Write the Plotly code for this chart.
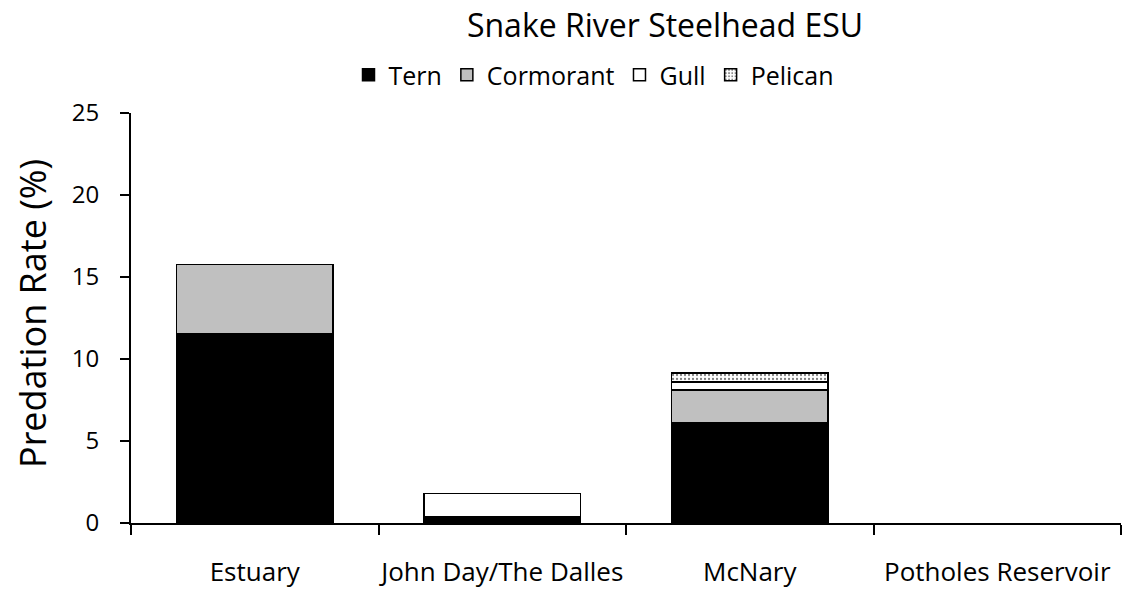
import plotly.graph_objects as go

# Stacked predation rates (%) by location and bird colony type
locations = ["Estuary", "John Day/The Dalles", "McNary", "Potholes Reservoir"]
tern = [11.55, 0.4, 6.1, 0]
cormorant = [4.2, 0, 2.0, 0]
gull = [0, 1.4, 0.5, 0]
pelican = [0, 0, 0.55, 0]
y_ticks = [0, 5, 10, 15, 20, 25]

FONT = "Open Sans"
W, H = 1124, 595
L, R, T, B = 131, 3, 113, 72
PW = W - L - R  # plot-area width in px
PH = H - T - B  # plot-area height in px


def seg(values):
    # empty segments are left out so no outline is drawn for them
    return [v if v else None for v in values]


fig = go.Figure()
line = dict(color="black", width=1.5)
fig.add_bar(name="Tern", x=locations, y=seg(tern),
            marker=dict(color="black", line=line))
fig.add_bar(name="Cormorant", x=locations, y=seg(cormorant),
            marker=dict(color="#c0c0c0", line=line))
fig.add_bar(name="Gull", x=locations, y=seg(gull),
            marker=dict(color="white", line=line))
fig.add_bar(name="Pelican", x=locations, y=seg(pelican),
            marker=dict(color="white", line=line,
                        pattern=dict(shape=".", fgcolor="black", bgcolor="white",
                                     size=4, solidity=0.25)))

fig.update_layout(
    width=W, height=H,
    margin=dict(l=L, r=R, t=T, b=B, autoexpand=False),
    barmode="stack",
    bargap=0.366,
    plot_bgcolor="white",
    paper_bgcolor="white",
    font=dict(family=FONT, color="black", size=24),
    title=dict(text="Snake River Steelhead ESU", x=(665 - L) / PW,
               xanchor="center", xref="paper", y=1 - 26 / H, yanchor="middle",
               font=dict(size=32)),
    legend=dict(orientation="h", x=(594 - L) / PW, xanchor="center",
                xref="paper", y=(H - B - 75) / PH, yref="paper",
                yanchor="middle", font=dict(size=25), traceorder="normal",
                bgcolor="rgba(0,0,0,0)"),
    showlegend=True,
)

fig.update_xaxes(
    showline=True, linecolor="black", linewidth=2,
    ticks="outside", tickson="boundaries", ticklen=10, tickwidth=2,
    tickcolor="black", ticklabelstandoff=25, tickangle=0, automargin=False,
    tickfont=dict(size=26), showgrid=False,
)
fig.update_yaxes(
    range=[0, 25], tickvals=y_ticks, automargin=False,
    showline=True, linecolor="black", linewidth=2,
    ticks="outside", ticklen=9, tickwidth=2, tickcolor="black",
    ticklabelstandoff=16, tickfont=dict(size=24),
    showgrid=False, zeroline=False,
)

fig.add_annotation(text="Predation Rate (%)", textangle=-90,
                   xref="paper", yref="paper",
                   x=-(L - 32) / PW, y=(H - B - 314) / PH,
                   xanchor="center", yanchor="middle", showarrow=False,
                   font=dict(size=36))

fig.write_html("out.html")
